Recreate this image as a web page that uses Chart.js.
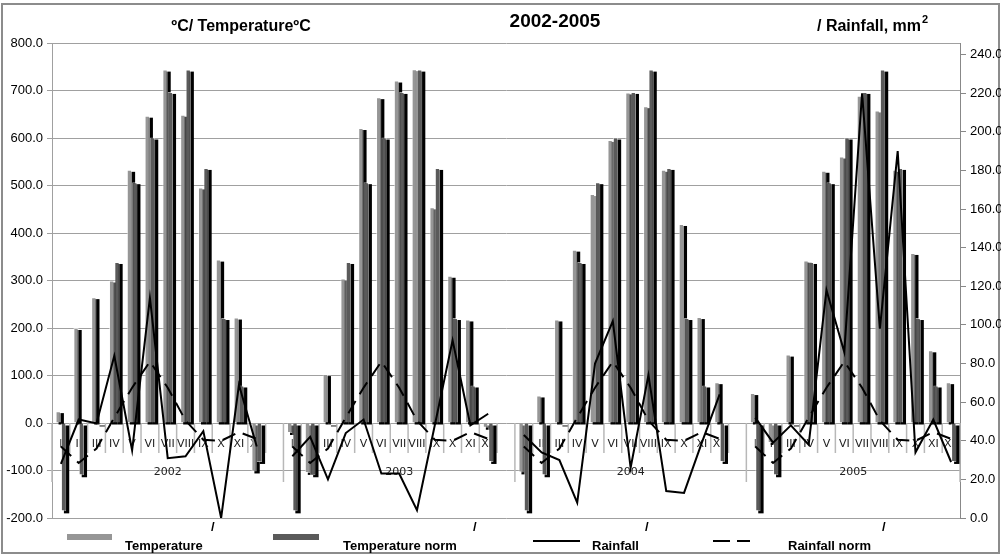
<!DOCTYPE html>
<html>
<head>
<meta charset="utf-8">
<script src="https://cdn.jsdelivr.net/npm/chart.js@4/dist/chart.umd.min.js"></script>
<style>
  html, body { margin: 0; padding: 0; background: #fff; }
  #wrap { width: 1001px; height: 557px; }
</style>
</head>
<body>
<div id="wrap"><canvas id="chart" width="1001" height="557"></canvas></div>
<script>
const months = ['I', 'II', 'III', 'IV', 'V', 'VI', 'VII', 'VIII', 'IX', 'X', 'XI', 'XII'];
const years = ['2002', '2003', '2004', '2005'];

// monthly temperature sums, one row per year
const temperature = [
  25, 200, 265, 300, 533, 647, 744, 649, 496, 344, 222, -102,
  -21, -105, 103, 304, 621, 686, 721, 745, 454, 310, 218, -10,
  -104, 58, 218, 365, 482, 596, 696, 667, 533, 419, 223, 86,
  63, -42, 144, 342, 531, 561, 689, 658, 533, 358, 153, 86
];
const temperatureNorm = [
  -186, -110, -3, 339, 507, 601, 697, 744, 537, 221, 79, -82,
  -186, -110, -3, 339, 507, 601, 697, 744, 537, 221, 79, -82,
  -186, -110, -3, 339, 507, 601, 697, 744, 537, 221, 79, -82,
  -186, -110, -3, 339, 507, 601, 697, 744, 537, 221, 79, -82
];
// monthly rainfall, mm (right axis)
const rainfall = [
  28, 51, 49, 84, 35, 114, 31, 32, 45, 0, 69, 37,
  32, 42, 20, 44, 51, 23, 23, 4, 48, 92, 48, 54,
  43, 34, 30, 8, 80, 102, 26, 74, 14, 13, 39, 64,
  52, 39, 48, 38, 118, 86, 220, 98, 190, 34, 51, 29
];
const rainfallNorm = [
  37, 28.5, 36, 52, 67.5, 81, 67.5, 50.5, 40.5, 40, 44.5, 41,
  37, 28.5, 36, 52, 67.5, 81, 67.5, 50.5, 40.5, 40, 44.5, 41,
  37, 28.5, 36, 52, 67.5, 81, 67.5, 50.5, 40.5, 40, 44.5, 41,
  37, 28.5, 36, 52, 67.5, 81, 67.5, 50.5, 40.5, 40, 44.5, 41
];

// each year is a group of 12 months followed by an empty slot (none after the last year)
const slots = [];
years.forEach((yr, k) => {
  months.forEach((m, j) => slots.push({ yr, m, idx: k * 12 + j }));
  if (k < years.length - 1) slots.push({ yr, m: '', idx: null });
});
const groupStarts = years.map((yr, k) => k * (months.length + 1));
const spread = arr => slots.map(s => (s.idx === null ? null : arr[s.idx]));
const labels = slots.map(s => (s.m ? s.m + ' ' + s.yr : ''));

const FONT = '"Liberation Sans", Arial, sans-serif';

const legendItems = [
  { ds: 0, kind: 'box',  x0: 67,  x1: 112, tx: 125, slash: 211 },
  { ds: 1, kind: 'box',  x0: 273, x1: 319, tx: 343, slash: 473 },
  { ds: 2, kind: 'line', x0: 533, x1: 580, tx: 592, slash: 645 },
  { ds: 3, kind: 'line', x0: 713, x1: 750, tx: 788, slash: 882 }
];

const excelLook = {
  id: 'excelLook',
  beforeDraw(chart) {
    const { ctx, width, height } = chart;
    ctx.save();
    ctx.fillStyle = '#fff';
    ctx.fillRect(0, 0, width, height);
    ctx.strokeStyle = '#8c8c8c';
    ctx.lineWidth = 2;
    ctx.strokeRect(2, 4, width - 4, height - 8);
    ctx.restore();
  },
  beforeDatasetsDraw(chart) {
    const { ctx, scales: { x, y } } = chart;
    const zero = y.getPixelForValue(0);
    const step = x.getPixelForValue(1) - x.getPixelForValue(0);
    const edge = i => x.getPixelForValue(i) - step / 2;
    ctx.save();

    // category separators hanging under the zero line, longer between years
    ctx.strokeStyle = '#b8b8b8';
    ctx.lineWidth = 1.5;
    for (let i = 0; i <= slots.length; i++) {
      const len = (groupStarts.includes(i) || i === slots.length) ? 59 : 30;
      ctx.beginPath();
      ctx.moveTo(edge(i), zero);
      ctx.lineTo(edge(i), zero + len);
      ctx.stroke();
    }

    ctx.fillStyle = '#222';
    ctx.font = '11px "DejaVu Sans", sans-serif';
    ctx.textAlign = 'center';
    ctx.textBaseline = 'middle';
    slots.forEach((s, i) => {
      if (s.m) ctx.fillText(s.m, x.getPixelForValue(i), zero + 21);
    });
    years.forEach((yr, k) => {
      const a = groupStarts[k];
      const b = k + 1 < years.length ? groupStarts[k + 1] : slots.length;
      ctx.fillText(yr, (edge(a) + edge(b)) / 2, zero + 49);
    });

    // drop shadows of the bars
    ctx.fillStyle = '#000';
    chart.data.datasets.forEach((ds, i) => {
      const meta = chart.getDatasetMeta(i);
      if (meta.type !== 'bar' || meta.hidden) return;
      meta.data.forEach((bar, j) => {
        if (ds.data[j] == null) return;
        const p = bar.getProps(['x', 'y', 'base', 'width'], true);
        ctx.fillRect(p.x - p.width / 2 + 3, Math.min(p.y, p.base) + 2, p.width, Math.abs(p.base - p.y));
      });
    });
    ctx.restore();
  },
  afterDraw(chart) {
    const { ctx } = chart;
    ctx.save();
    ctx.fillStyle = '#000';
    ctx.textBaseline = 'middle';

    // titles
    ctx.font = 'bold 16px ' + FONT;
    ctx.textAlign = 'center';
    ctx.fillText('ºC/ TemperatureºC', 241, 27);
    ctx.font = 'bold 19px ' + FONT;
    ctx.fillText('2002-2005', 555, 22);
    ctx.font = 'bold 16px ' + FONT;
    ctx.textAlign = 'left';
    const rt = '/ Rainfall, mm';
    ctx.fillText(rt, 817, 27);
    const rw = ctx.measureText(rt).width;
    ctx.font = 'bold 11px ' + FONT;
    ctx.fillText('2', 817 + rw + 1, 20);

    // legend
    legendItems.forEach(item => {
      const ds = chart.data.datasets[item.ds];
      if (item.kind === 'box') {
        ctx.fillStyle = ds.backgroundColor;
        ctx.fillRect(item.x0, 534, item.x1 - item.x0, 6);
      } else {
        ctx.strokeStyle = ds.borderColor;
        ctx.lineWidth = 2;
        ctx.setLineDash(ds.borderDash ? [17, 7] : []);
        ctx.beginPath();
        ctx.moveTo(item.x0, 541);
        ctx.lineTo(item.x1, 541);
        ctx.stroke();
        ctx.setLineDash([]);
      }
      ctx.fillStyle = '#000';
      ctx.font = 'bold 13px ' + FONT;
      ctx.textAlign = 'left';
      ctx.fillText(ds.label, item.tx, 546);
      ctx.fillText('/', item.slash, 527);
    });
    ctx.restore();
  }
};

const tickFont = { family: FONT, size: 13 };

new Chart(document.getElementById('chart'), {
  data: {
    labels: labels,
    datasets: [
      {
        type: 'bar',
        label: 'Temperature',
        data: spread(temperature),
        backgroundColor: '#969696',
        borderColor: 'rgba(255,255,255,0.6)',
        borderWidth: 1,
        categoryPercentage: 0.6,
        barPercentage: 1,
        yAxisID: 'y',
        order: 1
      },
      {
        type: 'bar',
        label: 'Temperature norm',
        data: spread(temperatureNorm),
        backgroundColor: '#5a5a5a',
        borderColor: 'rgba(255,255,255,0.6)',
        borderWidth: 1,
        categoryPercentage: 0.6,
        barPercentage: 1,
        yAxisID: 'y',
        order: 1
      },
      {
        type: 'line',
        label: 'Rainfall',
        data: spread(rainfall),
        borderColor: '#000',
        borderWidth: 2,
        pointRadius: 0,
        tension: 0,
        fill: false,
        yAxisID: 'y1',
        order: 0
      },
      {
        type: 'line',
        label: 'Rainfall norm',
        data: spread(rainfallNorm),
        borderColor: '#000',
        borderWidth: 2,
        borderDash: [14, 8],
        pointRadius: 0,
        tension: 0,
        fill: false,
        yAxisID: 'y1',
        order: 0
      }
    ]
  },
  options: {
    responsive: false,
    animation: false,
    devicePixelRatio: 1,
    layout: { padding: { top: 43, bottom: 39, left: 0, right: 0 } },
    plugins: {
      legend: { display: false },
      tooltip: { enabled: false },
      title: { display: false }
    },
    scales: {
      x: { type: 'category', display: false, offset: true },
      y: {
        position: 'left',
        min: -200,
        max: 800,
        ticks: { stepSize: 100, color: '#000', font: tickFont, padding: 4, callback: v => v.toFixed(1) },
        grid: { color: '#a0a0a0', lineWidth: 1, tickLength: 5 },
        border: { color: '#a0a0a0' },
        afterFit: s => { s.width = 52; }
      },
      y1: {
        position: 'right',
        min: 0,
        max: 246,
        ticks: { stepSize: 20, includeBounds: false, color: '#000', font: tickFont, padding: 4, callback: v => v.toFixed(1) },
        grid: { drawOnChartArea: false, color: '#888', tickLength: 6 },
        border: { color: '#888' },
        afterFit: s => { s.width = 41; }
      }
    }
  },
  plugins: [excelLook]
});
</script>
</body>
</html>
